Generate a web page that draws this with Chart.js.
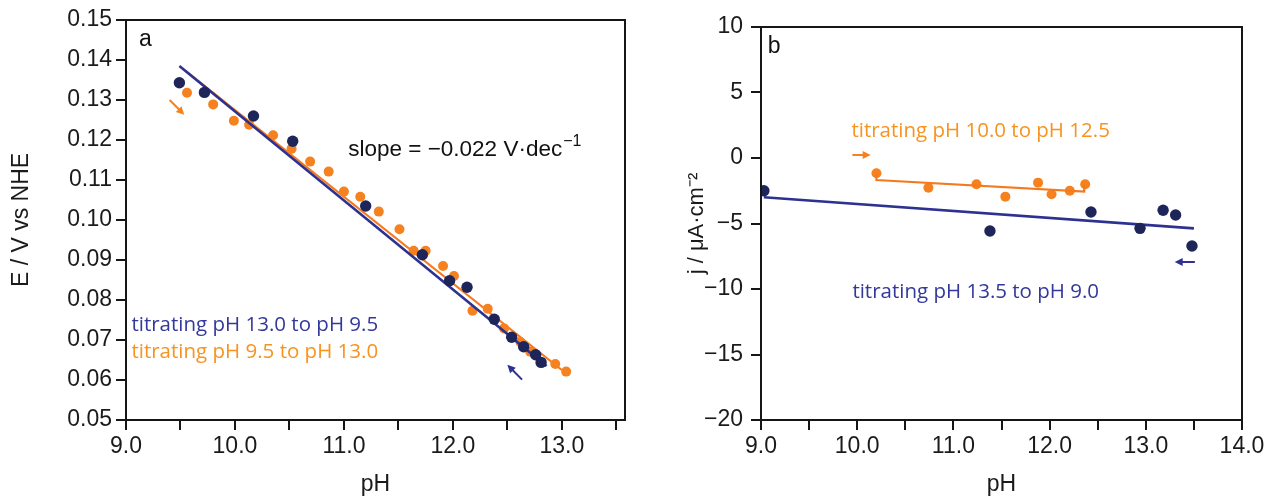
<!DOCTYPE html>
<html><head><meta charset="utf-8">
<script src="https://cdn.jsdelivr.net/npm/chart.js@4"></script>
<style>
html,body{margin:0;padding:0;background:#fff;width:1272px;height:498px;overflow:hidden}
#wa{position:absolute;left:0;top:0;width:640px;height:498px}
#wb{position:absolute;left:640px;top:0;width:632px;height:498px}
</style></head><body>
<div id="wa"><canvas id="ca"></canvas></div>
<div id="wb"><canvas id="cb"></canvas></div>
<script>
// ---- Panel a data ----
const phA_navy = [9.49, 9.72, 10.17, 10.53, 11.20, 11.72, 11.97, 12.13, 12.38, 12.54, 12.65, 12.76, 12.81];
const eA_navy  = [0.1343, 0.1319, 0.1260, 0.1197, 0.1035, 0.0913, 0.0848, 0.0832, 0.0752, 0.0707, 0.0683, 0.0663, 0.0644];
const phA_orange = [9.56, 9.80, 9.99, 10.13, 10.35, 10.52, 10.69, 10.86, 11.00, 11.15, 11.32, 11.51, 11.64, 11.75, 11.91, 12.01, 12.18, 12.32, 12.47, 12.62, 12.71, 12.94, 13.04];
const eA_orange  = [0.1318, 0.1289, 0.1248, 0.1238, 0.1212, 0.1178, 0.1146, 0.1121, 0.1071, 0.1058, 0.1021, 0.0977, 0.0923, 0.0923, 0.0885, 0.0860, 0.0773, 0.0778, 0.0729, 0.0695, 0.0671, 0.0640, 0.0621];
const fitA_navy_ph = [9.49, 12.86];
const fitA_navy_e  = [0.1385, 0.0635];
const fitA_orange_ph = [9.55, 13.00];
const fitA_orange_e  = [0.1372, 0.0625];
// ---- Panel b data ----
const phB_navy = [9.03, 11.38, 12.43, 12.94, 13.18, 13.31, 13.48];
const jB_navy  = [-2.50, -5.57, -4.12, -5.37, -3.99, -4.35, -6.72];
const phB_orange = [10.20, 10.74, 11.24, 11.54, 11.88, 12.02, 12.21, 12.37];
const jB_orange  = [-1.17, -2.27, -2.01, -2.95, -1.88, -2.77, -2.50, -2.01];
const fitB_navy_ph = [9.03, 13.50];
const fitB_navy_j  = [-3.00, -5.37];
const fitB_orange_ph = [10.20, 10.20, 12.36, 12.36];
const fitB_orange_j  = [-1.20, -1.68, -2.57, -2.05];
// ---- tick labels ----
const ticksA_x = [9, 10, 11, 12, 13];
const ticksB_x = [9, 10, 11, 12, 13, 14];

const NAVY_PT = '#1e2559', NAVY_LN = '#2d3190', NAVY_TX = '#33399a';
const ORNG_PT = '#f5821f', ORNG_LN = '#f47a1f', ORNG_TX = '#f7931e';
const AX = '#161616';
const TICKFONT = {family: 'Liberation Sans', size: 23};

const xy = (xs, ys) => xs.map((v, i) => ({x: v, y: ys[i]}));

const annot = {
  id: 'annot',
  afterDatasetsDraw(chart, args, o) {
    const {ctx, chartArea: ca, scales: {x, y}} = chart;
    ctx.save();
    ctx.lineWidth = 2; ctx.strokeStyle = AX;
    ctx.strokeRect(ca.left, ca.top, ca.right - ca.left, ca.bottom - ca.top);
    (o.texts || []).forEach(t => {
      ctx.font = t.font; ctx.fillStyle = t.color;
      ctx.textAlign = 'left'; ctx.textBaseline = 'middle';
      const px = x.getPixelForValue(t.x), py = y.getPixelForValue(t.y);
      ctx.fillText(t.text, px, py);
      if (t.sup) {
        const w = ctx.measureText(t.text).width;
        ctx.font = t.supFont;
        ctx.fillText(t.sup, px + w + 1, py - 8);
      }
    });
    (o.arrows || []).forEach(a => {
      const x1 = x.getPixelForValue(a.x1), y1 = y.getPixelForValue(a.y1);
      const x2 = x.getPixelForValue(a.x2), y2 = y.getPixelForValue(a.y2);
      const ang = Math.atan2(y2 - y1, x2 - x1), hl = 8, hw = 4;
      ctx.strokeStyle = a.color; ctx.fillStyle = a.color; ctx.lineWidth = 2;
      ctx.beginPath(); ctx.moveTo(x1, y1);
      ctx.lineTo(x2 - hl * 0.7 * Math.cos(ang), y2 - hl * 0.7 * Math.sin(ang)); ctx.stroke();
      ctx.beginPath(); ctx.moveTo(x2, y2);
      ctx.lineTo(x2 - hl * Math.cos(ang) + hw * Math.sin(ang), y2 - hl * Math.sin(ang) - hw * Math.cos(ang));
      ctx.lineTo(x2 - hl * Math.cos(ang) - hw * Math.sin(ang), y2 - hl * Math.sin(ang) + hw * Math.cos(ang));
      ctx.closePath(); ctx.fill();
    });
    ctx.restore();
  }
};

function axisCommon() {
  return {
    grid: {drawOnChartArea: false, drawTicks: true, tickLength: 10, color: AX, lineWidth: 2},
    border: {display: true, color: AX, width: 2},
  };
}

function xScale(min, max, labels) {
  return Object.assign(axisCommon(), {
    type: 'linear', min, max,
    afterFit: s => { s.height = 78; },
    ticks: {
      stepSize: 0.5, includeBounds: false, autoSkip: false, maxRotation: 0, padding: 3,
      color: '#1a1a1a', font: TICKFONT,
      callback: v => labels.some(l => Math.abs(l - v) < 1e-6) ? Number(v).toFixed(1) : ''
    },
    title: {display: true, text: 'pH', color: '#1a1a1a',
      font: {family: 'Liberation Sans', size: 23, lineHeight: 1}, padding: {top: 0, bottom: 2}}
  });
}

const fontAnn = '20.5px "Open Sans"';

// ---- Chart a ----
new Chart(document.getElementById('ca'), {
  type: 'scatter',
  data: {datasets: [
    {data: xy(phA_navy, eA_navy), backgroundColor: NAVY_PT, borderColor: NAVY_PT, pointRadius: 5.7, borderWidth: 0, order: 1},
    {data: xy(fitA_navy_ph, fitA_navy_e), showLine: true, borderColor: NAVY_LN, borderWidth: 2.6, pointRadius: 0, order: 2},
    {data: xy(phA_orange, eA_orange), backgroundColor: ORNG_PT, borderColor: ORNG_PT, pointRadius: 5, borderWidth: 0, order: 3},
    {data: xy(fitA_orange_ph, fitA_orange_e), showLine: true, borderColor: ORNG_LN, borderWidth: 2.2, pointRadius: 0, order: 4},
  ]},
  options: {
    responsive: true, maintainAspectRatio: false, animation: false,
    layout: {padding: {left: 0, top: 20, right: 15, bottom: 0}},
    plugins: {legend: {display: false}, tooltip: {enabled: false},
      annot: {
        texts: [
          {text: 'a', x: 9.12, y: 0.1452, font: '23px "Liberation Sans"', color: '#111'},
          {text: 'slope = \u22120.022 V\u00b7dec', sup: '\u22121', x: 11.04, y: 0.1175,
            font: '22.5px "Liberation Sans"', supFont: '16px "Liberation Sans"', color: '#111'},
          {text: 'titrating pH 13.0 to pH 9.5', x: 9.05, y: 0.0738, font: fontAnn, color: NAVY_TX},
          {text: 'titrating pH 9.5 to pH 13.0', x: 9.05, y: 0.0670, font: fontAnn, color: ORNG_TX},
        ],
        arrows: [
          {x1: 9.40, y1: 0.1300, x2: 9.535, y2: 0.1263, color: ORNG_PT},
          {x1: 12.635, y1: 0.0601, x2: 12.50, y2: 0.0638, color: NAVY_LN},
        ]
      }
    },
    scales: {
      x: xScale(9, 13.58, ticksA_x),
      y: Object.assign(axisCommon(), {
        type: 'linear', min: 0.05, max: 0.15,
        afterFit: s => { s.width = 126; },
        ticks: {stepSize: 0.01, padding: 4, color: '#1a1a1a',
          font: TICKFONT, callback: v => Number(v).toFixed(2)},
        title: {display: true, text: 'E / V vs NHE', color: '#1a1a1a',
          font: {family: 'Liberation Sans', size: 23, lineHeight: 1}, padding: {top: 10, bottom: 0}}
      })
    }
  },
  plugins: [annot]
});

// ---- Chart b ----
new Chart(document.getElementById('cb'), {
  type: 'scatter',
  data: {datasets: [
    {data: xy(phB_navy, jB_navy), backgroundColor: NAVY_PT, borderColor: NAVY_PT, pointRadius: 5.7, borderWidth: 0, order: 1},
    {data: xy(fitB_navy_ph, fitB_navy_j), showLine: true, borderColor: NAVY_LN, borderWidth: 2.6, pointRadius: 0, order: 2},
    {data: xy(phB_orange, jB_orange), backgroundColor: ORNG_PT, borderColor: ORNG_PT, pointRadius: 5, borderWidth: 0, order: 4},
    {data: xy(fitB_orange_ph, fitB_orange_j), showLine: true, borderColor: ORNG_LN, borderWidth: 2.2, pointRadius: 0, order: 3},
  ]},
  options: {
    responsive: true, maintainAspectRatio: false, animation: false,
    layout: {padding: {left: 0, top: 27, right: 30, bottom: 0}},
    plugins: {legend: {display: false}, tooltip: {enabled: false},
      annot: {
        texts: [
          {text: 'b', x: 9.07, y: 8.5, font: '23px "Liberation Sans"', color: '#111'},
          {text: 'titrating pH 10.0 to pH 12.5', x: 9.94, y: 2.06, font: fontAnn, color: ORNG_TX},
          {text: 'titrating pH 13.5 to pH 9.0', x: 9.95, y: -10.23, font: fontAnn, color: NAVY_TX},
        ],
        arrows: [
          {x1: 9.95, y1: 0.23, x2: 10.14, y2: 0.23, color: ORNG_PT},
          {x1: 13.51, y1: -7.94, x2: 13.30, y2: -7.94, color: NAVY_LN},
        ]
      }
    },
    scales: {
      x: xScale(9, 14, ticksB_x),
      y: Object.assign(axisCommon(), {
        type: 'linear', min: -20, max: 10,
        afterFit: s => { s.width = 121; },
        ticks: {stepSize: 5, padding: 8, color: '#1a1a1a',
          font: TICKFONT,
          callback: v => v < 0 ? '\u2212' + Math.abs(v) : String(v)},
        title: {display: true, text: 'j / \u03bcA\u00b7cm\u207b\u00b2', color: '#1a1a1a',
          font: {family: 'Liberation Sans', size: 22, lineHeight: 1}, padding: {top: 46, bottom: 0}}
      })
    }
  },
  plugins: [annot]
});
</script>
</body></html>
